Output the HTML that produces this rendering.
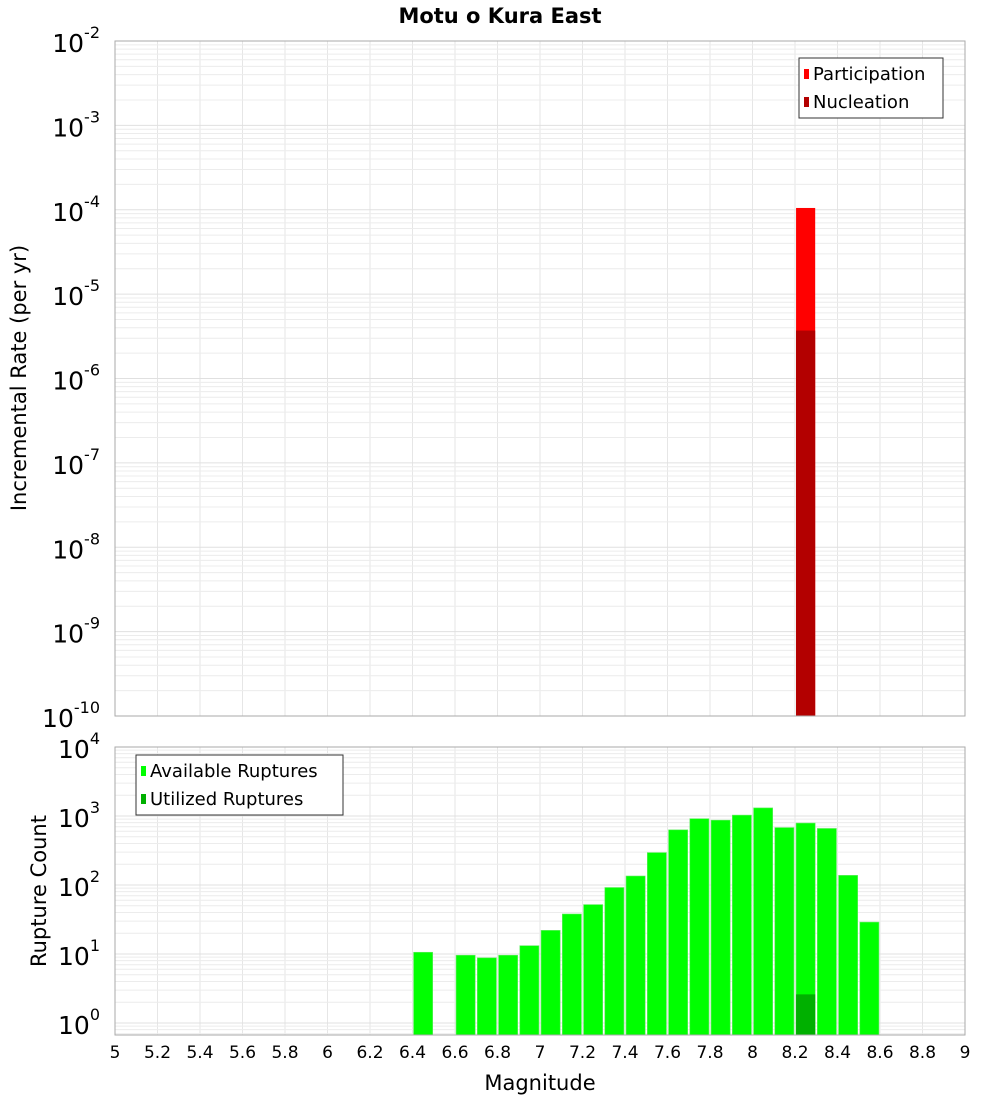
<!DOCTYPE html>
<html><head><meta charset="utf-8"><style>
body{margin:0;background:#fff;}
svg{display:block;font-family:"DejaVu Sans","Liberation Sans",sans-serif;}
</style></head><body>
<svg id="c" width="1000" height="1100"></svg>
<script>
const mags=[6.45,6.65,6.75,6.85,6.95,7.05,7.15,7.25,7.35,7.45,7.55,7.65,7.75,7.85,7.95,8.05,8.15,8.25,8.35,8.45,8.55];
const available=[10.6,9.6,8.8,9.6,13.2,22,38,52,92,135,295,630,915,870,1030,1310,680,790,660,138,29];
const utilMags=[8.25];
const utilized=[2.6];
const partMags=[8.25];
const participation=[1.05e-4];
const nucleation=[3.7e-6];
const xTicks=[5,5.2,5.4,5.6,5.8,6,6.2,6.4,6.6,6.8,7,7.2,7.4,7.6,7.8,8,8.2,8.4,8.6,8.8,9];
const xTickLabels=["5","5.2","5.4","5.6","5.8","6","6.2","6.4","6.6","6.8","7","7.2","7.4","7.6","7.8","8","8.2","8.4","8.6","8.8","9"];
const topExps=[-10,-9,-8,-7,-6,-5,-4,-3,-2];
const botExps=[0,1,2,3,4];

const NS="http://www.w3.org/2000/svg";
const svg=document.getElementById('c');
function mk(t,a,p){const e=document.createElementNS(NS,t);for(const k in a)e.setAttribute(k,a[k]);(p||svg).appendChild(e);return e;}
const L=115,R=965;
const x=m=>L+(m-5)/4*(R-L);
const T={top:41,bot:716,lo:-10,hi:-2};
const B={top:747,bot:1035,y0:1023,dec:69};
const yT=v=>T.bot-(Math.log10(v)-T.lo)*(T.bot-T.top)/(T.hi-T.lo);
const yB=v=>B.y0-Math.log10(v)*B.dec;

// title
let t=mk('text',{x:500,y:23,'text-anchor':'middle','font-size':21,'font-weight':'bold'});
t.textContent='Motu o Kura East';



function grid(P,ymap,exps,minLog){
  const g=mk('g',{});
  
  
  for(const xv of xTicks) mk('line',{x1:x(xv),x2:x(xv),y1:P.top,y2:P.bot,stroke:'#e6e6e6'},g);
  for(let e=exps[0]-1;e<=exps[exps.length-1];e++){
    for(let k=1;k<=9;k++){const v=k*Math.pow(10,e);const yy=ymap(v);
      if(yy<P.top-0.5||yy>P.bot+0.5)continue;
      mk('line',{x1:L,x2:R,y1:yy,y2:yy,stroke:k==1?'#e0e0e0':'#ececec'},g);}
  }
}
grid(T,yT,topExps);
grid(B,yB,botExps);

// top bars
for(let i=0;i<partMags.length;i++){
  const x0=x(partMags[i]-0.045),w=x(partMags[i]+0.045)-x0;
  let r=mk('rect',{x:x0,y:yT(participation[i]),width:w,height:T.bot-yT(participation[i]),fill:'#ff0000'});
  
  
  r=mk('rect',{x:x0,y:yT(nucleation[i]),width:w,height:T.bot-yT(nucleation[i]),fill:'#b30000'});
  
  
}
// bottom bars
for(let i=0;i<mags.length;i++){
  const x0=x(mags[i]-0.045),w=x(mags[i]+0.045)-x0;
  const r=mk('rect',{x:x0,y:yB(available[i]),width:w,height:B.bot-yB(available[i]),fill:'#00ff00',stroke:'#66ee66','stroke-width':0.6});
  
  
}
for(let i=0;i<utilMags.length;i++){
  const x0=x(utilMags[i]-0.045),w=x(utilMags[i]+0.045)-x0;
  const r=mk('rect',{x:x0,y:yB(utilized[i]),width:w,height:B.bot-yB(utilized[i]),fill:'#00b000'});
  
  
}
// frames
mk('rect',{x:L,y:T.top,width:R-L,height:T.bot-T.top,fill:'none',stroke:'#aaa'});
mk('rect',{x:L,y:B.top,width:R-L,height:B.bot-B.top,fill:'none',stroke:'#aaa'});

// y tick labels
function ylab(e,yy,name){
  const tx=mk('text',{x:100,y:yy+11,'text-anchor':'end','font-size':25});
  
  
  const a=mk('tspan',{},tx);a.textContent='10';
  const s=mk('tspan',{dy:-14,'font-size':16},tx);s.textContent=String(e);
}
for(const e of topExps) ylab(e,yT(Math.pow(10,e)),'top-y-tick-label');
for(const e of botExps) ylab(e,yB(Math.pow(10,e)),'bottom-y-tick-label');
// x tick labels
for(let i=0;i<xTicks.length;i++){
  const tx=mk('text',{x:x(xTicks[i]),y:1058,'text-anchor':'middle','font-size':17});
  tx.textContent=xTickLabels[i];
  
  
}
// axis titles
t=mk('text',{x:540,y:1090,'text-anchor':'middle','font-size':21});t.textContent='Magnitude';


t=mk('text',{x:0,y:0,'text-anchor':'middle','font-size':21,transform:'translate(26,378) rotate(-90)'});t.textContent='Incremental Rate (per yr)';


t=mk('text',{x:0,y:0,'text-anchor':'middle','font-size':21,transform:'translate(46,891) rotate(-90)'});t.textContent='Rupture Count';



// legends
function legend(x0,y0,w,items,name){
  const g=mk('g',{});
  
  
  mk('rect',{x:x0,y:y0,width:w,height:items.length*28+4,fill:'#fff',stroke:'#333'},g);
  items.forEach((it,i)=>{
    mk('rect',{x:x0+5,y:y0+11+i*28,width:5,height:10,fill:it[1]},g);
    const tx=mk('text',{x:x0+14,y:y0+22+i*28,'font-size':18},g);tx.textContent=it[0];
  });
}
legend(799,58,144,[['Participation','#ff0000'],['Nucleation','#b30000']],'top-legend');
legend(136,755,207,[['Available Ruptures','#00ff00'],['Utilized Ruptures','#00b000']],'bottom-legend');
</script>
</body></html>
